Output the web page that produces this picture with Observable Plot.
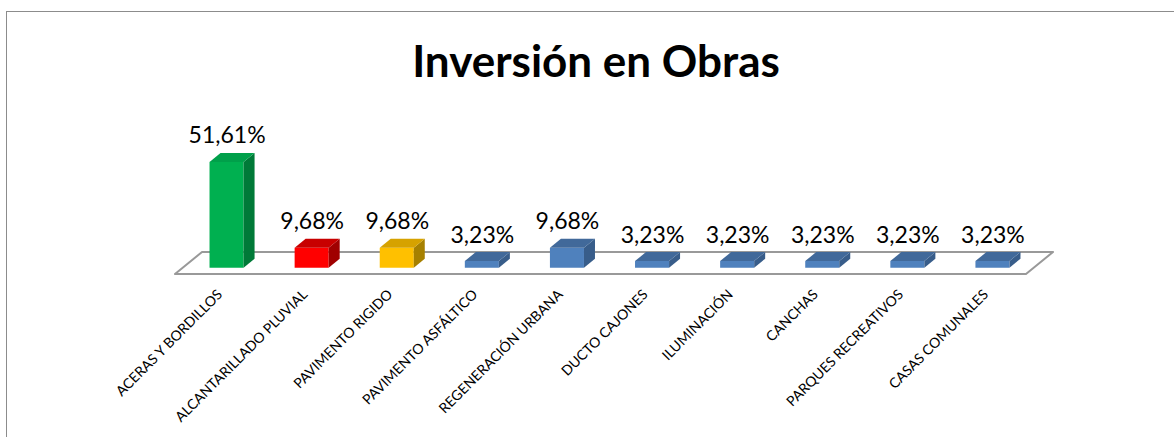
<!DOCTYPE html>
<html><head><meta charset="utf-8">
<script src="https://cdn.jsdelivr.net/npm/d3@7"></script>
<script src="https://cdn.jsdelivr.net/npm/@observablehq/plot@0.6"></script>
<style>
html,body{margin:0;padding:0;background:#fff;}
body{width:1174px;height:437px;overflow:hidden;position:relative;font-family:Lato,"Open Sans",sans-serif;}
#frame{position:absolute;left:6px;top:11px;width:1400px;height:600px;border-left:1.5px solid #8c8c8c;border-top:1.5px solid #8c8c8c;}
#title{position:absolute;left:0;top:38px;width:1174px;padding-left:18px;box-sizing:border-box;text-align:center;font:700 44px Lato,sans-serif;line-height:44px;color:#000;}
#chart{position:absolute;left:0;top:100px;}
</style></head><body>
<div id="frame"></div>
<div id="title">Inversión en Obras</div>
<div id="chart"></div>
<script>
const categories = ["ACERAS Y BORDILLOS","ALCANTARILLADO PLUVIAL","PAVIMENTO RIGIDO","PAVIMENTO ASFÁLTICO","REGENERACIÓN URBANA","DUCTO CAJONES","ILUMINACIÓN","CANCHAS","PARQUES RECREATIVOS","CASAS COMUNALES"];
const values = [51.61, 9.68, 9.68, 3.23, 9.68, 3.23, 3.23, 3.23, 3.23, 3.23];
const frontColors = ["#00B050","#FF0000","#FFC000","#4F81BD","#4F81BD","#4F81BD","#4F81BD","#4F81BD","#4F81BD","#4F81BD"];
const topColors   = ["#00A04A","#C80000","#D6A200","#41699A","#41699A","#41699A","#41699A","#41699A","#41699A","#41699A"];
const sideColors  = ["#007A38","#A00000","#A68000","#385D8A","#385D8A","#385D8A","#385D8A","#385D8A","#385D8A","#385D8A"];

const data = categories.map((c, i) => ({
  cat: c, value: values[i],
  label: values[i].toFixed(2).replace(".", ",") + "%",
  front: frontColors[i], top: topColors[i], side: sideColors[i]
}));

const DX = 11, DY = -9;

function bandwidthOf(scales) {
  if (scales.x && typeof scales.x.bandwidth === "function") return scales.x.bandwidth();
  return scales.scales.x.bandwidth;
}

function floor(index, scales, vals, dims) {
  const xL = dims.marginLeft, xR = dims.width - dims.marginRight, y0 = scales.y(0);
  const g = d3.create("svg:g");
  g.append("path")
    .attr("fill", "#fff").attr("stroke", "#999").attr("stroke-width", 2)
    .attr("stroke-linejoin", "round")
    .attr("d", `M${xL-9},${y0+6.3}L${xR-9},${y0+6.3}L${xR+18},${y0-15.7}L${xL+18},${y0-15.7}Z`);
  return g.node();
}

function cuboid(index, scales) {
  const g = d3.create("svg:g");
  const bw = bandwidthOf(scales);
  const y0 = scales.y(0);
  for (const i of index) {
    const d = data[i];
    const x0 = scales.x(d.cat), x1 = x0 + bw, yt = scales.y(d.value);
    g.append("path").attr("fill", d.front)
      .attr("d", `M${x0},${yt}H${x1}V${y0}H${x0}Z`);
    g.append("path").attr("fill", d.side)
      .attr("d", `M${x1},${yt}L${x1+DX},${yt+DY}L${x1+DX},${y0+DY}L${x1},${y0}Z`);
    g.append("path").attr("fill", d.top)
      .attr("d", `M${x0},${yt}L${x0+DX},${yt+DY}L${x1+DX},${yt+DY}L${x1},${yt}Z`);
  }
  return g.node();
}

const chart = Plot.plot({
  width: 1174, height: 337,
  marginLeft: 184, marginRight: 139, marginTop: 44.7, marginBottom: 169.3,
  x: {domain: categories, paddingInner: 0.6, paddingOuter: 0.3, round: false},
  y: {domain: [0, 60], axis: null},
  style: {background: "transparent", fontFamily: "Lato, sans-serif", color: "#000"},
  marks: [
    Plot.ruleY([0], {render: floor}),
    Plot.barY(data, {x: "cat", y: "value", render: cuboid}),
    Plot.text(data, {x: "cat", y: "value", text: "label", dy: -19, lineAnchor: "bottom", fontSize: 23, fill: "#000"}),
    Plot.axisX({tickRotate: -45, tickSize: 0, tickPadding: 24, dx: -7, fontSize: 14, label: null, fill: "#000"})
  ]
});
document.getElementById("chart").append(chart);
</script>
</body></html>
